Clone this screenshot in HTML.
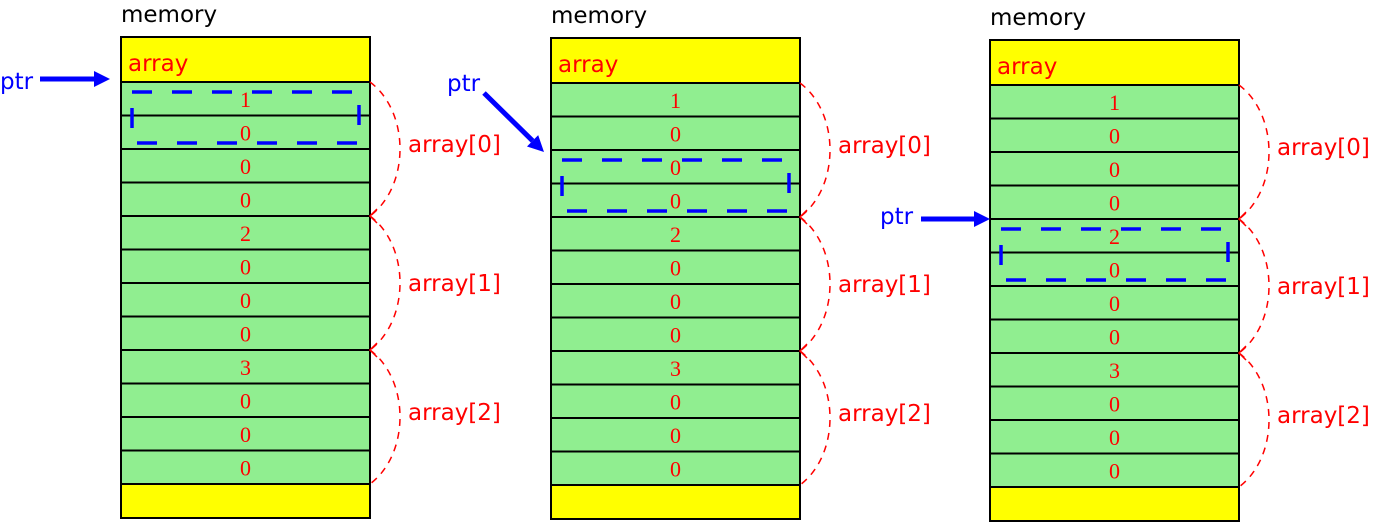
<!DOCTYPE html>
<html><head><meta charset="utf-8"><style>
html,body{margin:0;padding:0;background:#fff;width:1376px;height:525px;overflow:hidden}
svg{display:block}
.san{font-family:"DejaVu Sans","Liberation Sans",sans-serif}
.ser{font-family:"Liberation Serif","DejaVu Serif",serif}
</style></head><body>
<svg id="s" width="1376" height="525" xmlns="http://www.w3.org/2000/svg"></svg>
<script>
const values = [1,0,0,0,2,0,0,0,3,0,0,0];
const panelX = [121, 551, 990];
const panelTop = [37, 38, 40];
const highlightStart = [0, 2, 4];
const groupLabels = ['array[0]','array[1]','array[2]'];
const NS='http://www.w3.org/2000/svg';
const svg=document.getElementById('s');
function mk(tag,attrs,parent){const e=document.createElementNS(NS,tag);for(const k in attrs)e.setAttribute(k,attrs[k]);(parent||svg).appendChild(e);return e;}
const W=249, HEAD=45, CH=33.5;
const labOff=[-5,0,-5];
panelX.forEach((x,p)=>{
  const top=panelTop[p];
  const g=mk('g',{});
  
  
  const mt=mk('text',{x:x,y:top-15,'font-size':'23',fill:'#000',class:'san'},g);
  mt.textContent='memory';
  
  
  const hd=mk('rect',{x:x,y:top,width:W,height:HEAD,fill:'#ffff00',stroke:'#000','stroke-width':2},g);
  
  
  const at=mk('text',{x:x+7,y:top+34,'font-size':'23',fill:'#ff0000',class:'san'},g);
  at.textContent='array';
  
  
  const c0=top+HEAD;
  values.forEach((v,i)=>{
    const y=c0+i*CH;
    const r=mk('rect',{x:x,y:y,width:W,height:CH,fill:'#90ee90',stroke:'#000','stroke-width':2},g);
    
    
    const t=mk('text',{x:x+W/2,y:y+25,'font-size':'22',fill:'#ff0000','text-anchor':'middle',class:'ser'},g);
    t.textContent=v;
    
    
  });
  const by=c0+values.length*CH;
  const bt=mk('rect',{x:x,y:by,width:W,height:34,fill:'#ffff00',stroke:'#000','stroke-width':2},g);
  
  
  for(let k=0;k<3;k++){
    const y1=c0+k*4*CH, y2=c0+(k+1)*4*CH;
    const br=mk('path',{d:`M${x+W} ${y1} C${x+W+40} ${y1+30} ${x+W+40} ${y2-30} ${x+W} ${y2}`,fill:'none',stroke:'#ff0000','stroke-width':1.5,'stroke-dasharray':'7,6'},g);
    
    
    if(k>0){mk('path',{d:`M${x+W+7} ${y1-7} L${x+W} ${y1} L${x+W+7} ${y1+7}`,fill:'none',stroke:'#ff0000','stroke-width':1.5},g);}
    const gl=mk('text',{x:x+W+38,y:(y1+y2)/2+8+labOff[k],'font-size':'23',fill:'#ff0000',class:'san'},g);
    gl.textContent=groupLabels[k];
    
    
  }
  const hs=highlightStart[p];
  const hy=c0+hs*CH;
  const hr=mk('rect',{x:x+11,y:hy+10,width:W-22,height:2*CH-16,fill:'none',stroke:'#0000ff','stroke-width':3.5,'stroke-dasharray':'20,20'},g);
  
  
});
const ptrs=[
  {tx:0,ty:89,x1:40,y1:79,x2:110,y2:79},
  {tx:447,ty:91,x1:484,y1:93,x2:544,y2:152},
  {tx:880,ty:224,x1:921,y1:219,x2:990,y2:219}
];
ptrs.forEach((q,i)=>{
  const g=mk('g',{});
  
  
  const t=mk('text',{x:q.tx,y:q.ty,'font-size':'23',fill:'#0000ff',class:'san'},g);
  t.textContent='ptr';
  
  
  const a=Math.atan2(q.y2-q.y1,q.x2-q.x1);
  const L=16,Wd=8;
  const bx=q.x2-L*Math.cos(a), by=q.y2-L*Math.sin(a);
  mk('line',{x1:q.x1,y1:q.y1,x2:bx,y2:by,stroke:'#0000ff','stroke-width':5},g);
  mk('polygon',{points:`${q.x2},${q.y2} ${bx+Wd*Math.sin(a)},${by-Wd*Math.cos(a)} ${bx-Wd*Math.sin(a)},${by+Wd*Math.cos(a)}`,fill:'#0000ff'},g);
});
</script>
</body></html>
